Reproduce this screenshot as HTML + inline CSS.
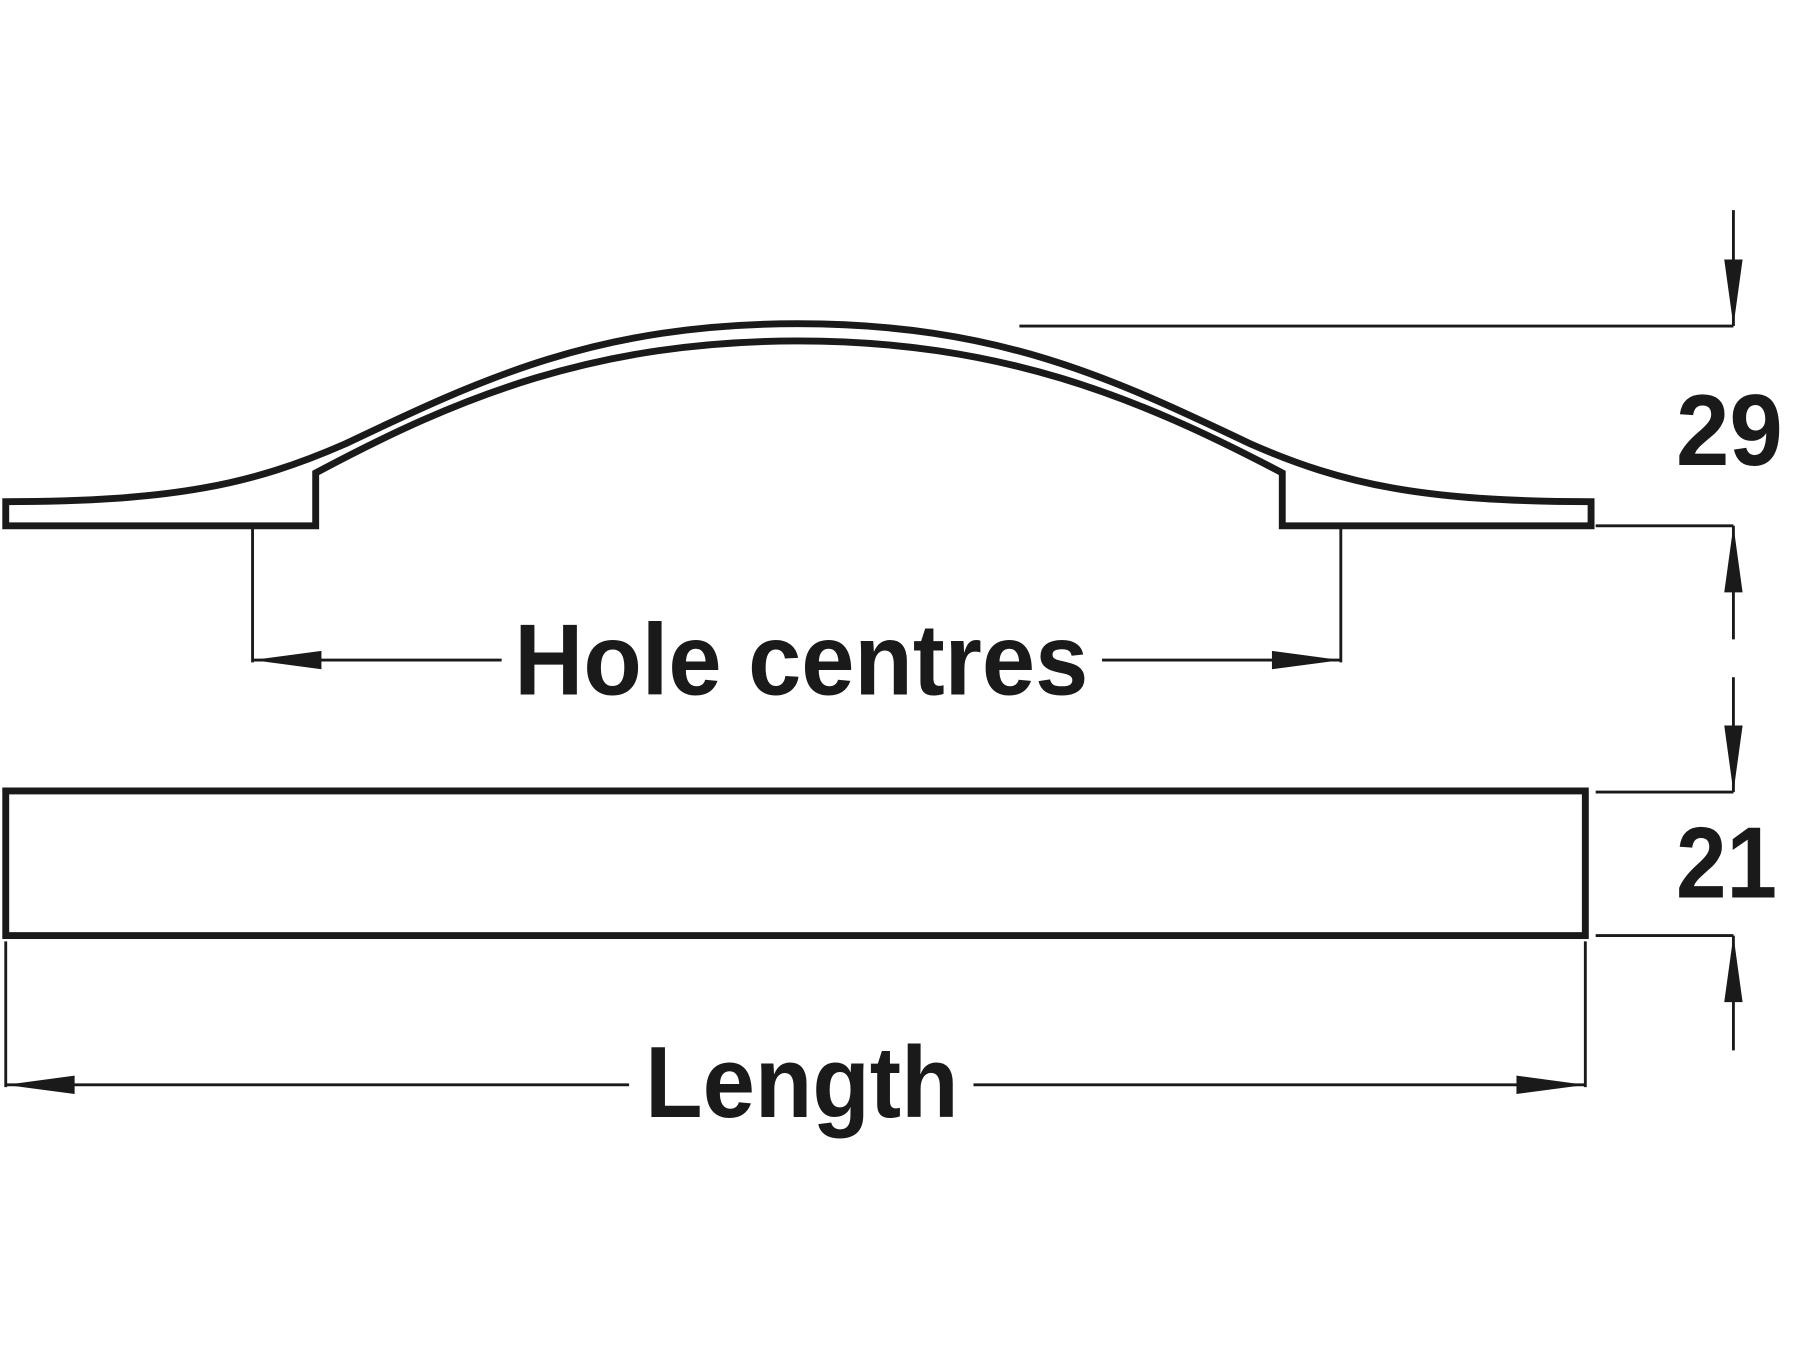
<!DOCTYPE html>
<html><head><meta charset="utf-8"><style>html,body{margin:0;padding:0;background:#fff;}svg{display:block}</style></head>
<body>
<svg width="1800" height="1350" viewBox="0 0 1568 1176" xmlns="http://www.w3.org/2000/svg">
<g fill="none" stroke="#1a1a1a" stroke-linejoin="miter">
<path stroke-width="6" d="M5,437 C150,437 220,422 300,387 C420,330 520,282 695,282 C870,282 970,330 1090,387 C1170,422 1240,437 1386,437 L1386,458 L1117,458 L1117,412 C990,345 870,297 695,297 C520,297 400,345 275,412 L275,458 L5,458 Z"/>
<rect x="5" y="689" width="1376" height="126" stroke-width="6"/>
<g stroke-width="2.5">
<line x1="888" y1="284" x2="1510" y2="284"/>
<line x1="1510" y1="183" x2="1510" y2="284"/>
<line x1="1390" y1="458" x2="1510" y2="458"/>
<line x1="1510" y1="458" x2="1510" y2="557"/>
<line x1="1510" y1="590" x2="1510" y2="690"/>
<line x1="1390" y1="690" x2="1510" y2="690"/>
<line x1="1390" y1="815" x2="1510" y2="815"/>
<line x1="1510" y1="815" x2="1510" y2="915"/>
<line x1="220" y1="458" x2="220" y2="577"/>
<line x1="1168" y1="458" x2="1168" y2="577"/>
<line x1="220" y1="575" x2="437" y2="575"/>
<line x1="960" y1="575" x2="1168" y2="575"/>
<line x1="5" y1="820" x2="5" y2="947"/>
<line x1="1381" y1="820" x2="1381" y2="947"/>
<line x1="5" y1="945" x2="548" y2="945"/>
<line x1="848" y1="945" x2="1381" y2="945"/>
</g>
</g>
<g fill="#1a1a1a">
<polygon points="1510,284 1502,226 1518,226"/>
<polygon points="1510,458 1502,516 1518,516"/>
<polygon points="1510,690 1502,632 1518,632"/>
<polygon points="1510,815 1502,873 1518,873"/>
<polygon points="220,575 280,567 280,583"/>
<polygon points="1168,575 1108,567 1108,583"/>
<polygon points="5,945 65,937 65,953"/>
<polygon points="1381,945 1321,937 1321,953"/>
<g font-family="Liberation Sans, sans-serif" font-weight="bold" font-size="88">
<text x="448" y="605" textLength="500" lengthAdjust="spacingAndGlyphs">Hole centres</text>
<text x="562" y="973" textLength="273" lengthAdjust="spacingAndGlyphs">Length</text>
<text x="1460" y="405" textLength="93" lengthAdjust="spacingAndGlyphs">29</text>
<text x="1460" y="782" textLength="88" lengthAdjust="spacingAndGlyphs">21</text>
</g>
</g>
</svg>
</body></html>
